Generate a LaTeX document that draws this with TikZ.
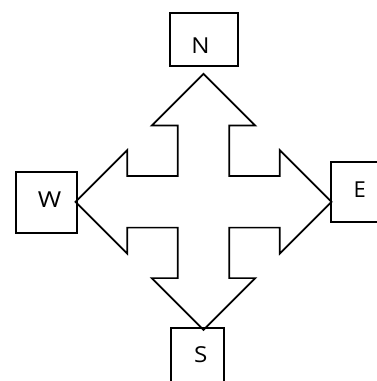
\documentclass[tikz,border=0pt]{standalone}
\usepackage{fontspec}
\setmainfont{Open Sans}
\usetikzlibrary{calc}
\begin{document}
\begin{tikzpicture}[x=1pt,y=-1pt,
  boxst/.style={draw,line width=1.7pt,rectangle,inner sep=0pt},
  lbl/.style={anchor=base,inner sep=0pt,font=\fontsize{22pt}{26pt}\selectfont},
  crossst/.style={draw,line width=1.7pt,line join=miter}]
\useasboundingbox (0,0) rectangle (377,381);
\clip (0,0) rectangle (377,381);
% boxes
\node[boxst,minimum width=68pt,minimum height=53.3pt] (nbox) at (204,39.4) {};
\node[boxst,minimum width=60.7pt,minimum height=61.6pt] (wbox) at (46.35,202.5) {};
\node[boxst,minimum width=60pt,minimum height=59.4pt] (ebox) at (361,192) {};
\node[boxst,minimum width=53.3pt,minimum height=60pt] (sbox) at (197.35,358.3) {};
\node[lbl,xscale=1.1] (nlbl) at (200.5,53) {N};
\node[lbl,xscale=1.15] (wlbl) at (49.7,207.7) {W};
\node[lbl] (elbl) at (359.7,197.7) {E};
\node[lbl,xscale=1.1] (slbl) at (200.7,362.5) {S};
% cross arrow
\coordinate (c) at (203.5,200.8);
\def\ca{25.8}\def\ch{51.7}\def\cb{76.3}\def\ct{127}
\draw[crossst] ($(c)+(0,-\ct)$) -- ++(\ch,\ch) -- ++({\ca-\ch},0) -- ++(0,{\cb-\ca})
  -- ++({\cb-\ca},0) -- ++(0,{\ca-\ch}) -- ++(\ch,\ch) -- ++(-\ch,\ch) -- ++(0,{\ca-\ch})
  -- ++({\ca-\cb},0) -- ++(0,{\cb-\ca}) -- ++({\ch-\ca},0) -- ++(-\ch,\ch) -- ++(-\ch,-\ch)
  -- ++({\ch-\ca},0) -- ++(0,{\ca-\cb}) -- ++({\ca-\cb},0) -- ++(0,{\ch-\ca}) -- ++(-\ch,-\ch)
  -- ++(\ch,-\ch) -- ++(0,{\ch-\ca}) -- ++({\cb-\ca},0) -- ++(0,{\ca-\cb}) -- ++({\ca-\ch},0) -- cycle;
\end{tikzpicture}
\end{document}
